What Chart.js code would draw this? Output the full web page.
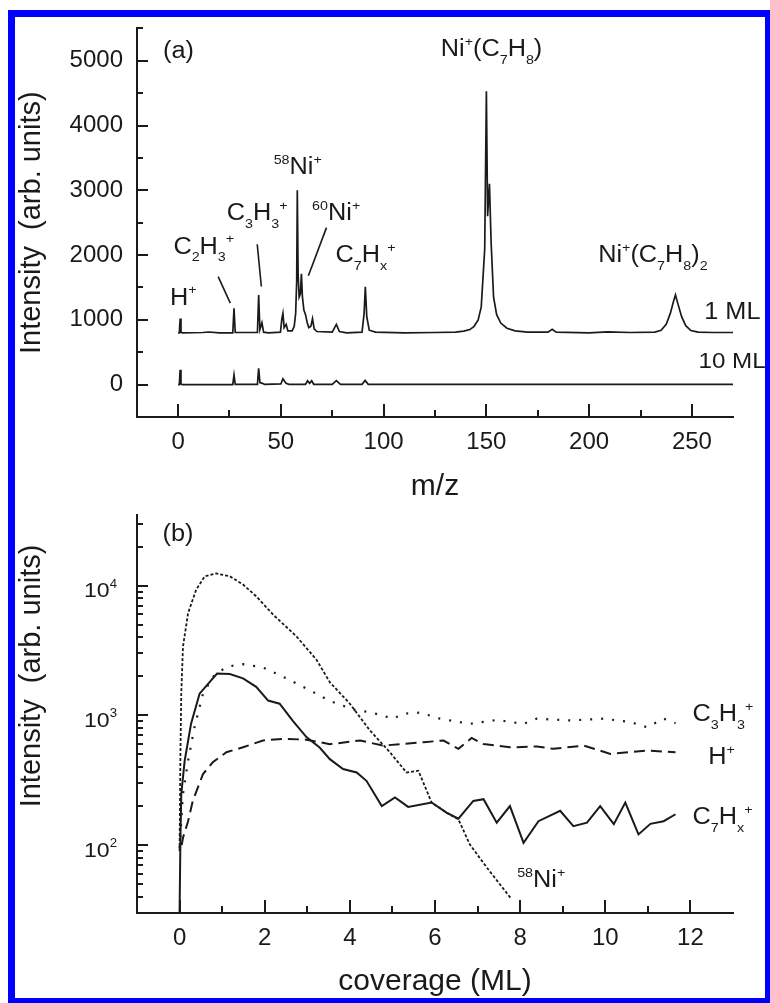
<!DOCTYPE html>
<html lang="en">
<head>
<meta charset="UTF-8" />
<title>Ni+ / toluene: mass spectra and coverage dependence</title>
<script src="https://cdn.jsdelivr.net/npm/chart.js"></script>
<style>
    html, body { margin: 0; padding: 0; background: #fff; overflow: hidden; }
    body { width: 770px; height: 1003px; position: relative; }
    canvas { position: absolute; left: 0; }
    #specChart { top: 0; }
    #covChart { top: 500px; }
    .frame {
        position: absolute; left: 8px; top: 10px;
        width: 750px; height: 981px;
        border: 7px solid #0000ff;
        pointer-events: none;
    }
</style>
</head>
<body>

<canvas id="specChart" width="770" height="507"></canvas>
<canvas id="covChart" width="770" height="503"></canvas>
<div class="frame"></div>

<script>
// ---------- panel (a): mass spectra, [m/z, intensity] ----------
const spec1ML = [
    [0, 800], [0.6, 800], [1, 1020], [1.4, 810], [2, 800], [12, 805], [15, 812], [20, 800],
    [26.6, 800], [27.2, 1180], [27.8, 805], [38.6, 805], [39.2, 1385], [39.8, 850],
    [40.8, 955], [41.6, 810], [44, 800], [49.8, 810], [50.5, 1020], [51, 1100], [51.6, 880],
    [52.6, 930], [53.4, 830], [55.5, 830], [56.5, 900], [57.2, 1100], [57.7, 1600],
    [58.0, 3000], [58.4, 1700], [58.9, 1350], [59.5, 1400], [60.0, 1710], [60.5, 1350],
    [61.2, 1150], [62, 1080], [62.8, 960], [63.6, 880], [64.6, 900], [65.4, 1020],
    [66.2, 860], [67.5, 820], [75, 810], [77, 930], [78.5, 820], [82, 800], [89.5, 810],
    [90.5, 1100], [91.1, 1510], [91.8, 1050], [93, 840], [96, 810], [110, 800], [125, 805],
    [135, 810], [139, 825], [142, 850], [144, 900], [146, 1000], [147.5, 1200], [149.2, 2100],
    [150, 4530], [150.6, 2600], [151.5, 3100], [152.3, 2200], [153.5, 1350], [155, 1080],
    [157, 950], [160, 870], [164, 830], [170, 810], [180, 810], [182, 853], [184, 810],
    [200, 800], [209, 815], [220, 805], [232, 810], [235, 840], [237.5, 930], [239.5, 1100],
    [241, 1280], [242, 1385], [243, 1270], [245, 1050], [247, 910], [249.5, 835], [253, 810],
    [260, 805], [270, 805]
];
const spec10ML = [
    [0, 0], [0.6, 0], [1, 230], [1.4, 10], [2, 0], [26.6, 0], [27.2, 150], [27.8, 5],
    [38.6, 5], [39.2, 250], [39.8, 30], [41, 20], [42, 5], [50, 10], [51, 90], [52.5, 20],
    [54, 5], [62, 5], [63, 60], [64, 20], [65, 60], [66, 5], [75, 5], [77, 60], [79, 5],
    [89.5, 5], [91, 65], [92.5, 5], [100, 3], [150, 5], [200, 3], [270, 3]
];
const specXTicks = [0, 25, 50, 75, 100, 125, 150, 175, 200, 225, 250];
const specYTicks = [0, 500, 1000, 1500, 2000, 2500, 3000, 3500, 4000, 4500, 5000, 5500];

// ---------- panel (b): intensity vs coverage, [ML, intensity] ----------
const covC7Hx = [
    [0, 30], [0.02, 110], [0.04, 247], [0.12, 447], [0.27, 863], [0.47, 1470], [0.67, 1750],
    [0.88, 2100], [1.18, 2080], [1.49, 1930], [1.8, 1660], [2.08, 1300], [2.35, 1230],
    [2.67, 900], [2.98, 680], [3.29, 565], [3.53, 460], [3.84, 386], [4.16, 363], [4.39, 313],
    [4.75, 200], [5.06, 233], [5.37, 197], [5.92, 213], [6.27, 178], [6.55, 160], [6.9, 219],
    [7.14, 226], [7.45, 149], [7.76, 200], [8.08, 104], [8.43, 153], [8.94, 184], [9.25, 140],
    [9.57, 149], [9.88, 200], [10.2, 145], [10.47, 213], [10.78, 121], [11.06, 146],
    [11.37, 153], [11.65, 173]
];
const covNi58 = [
    [0, 90], [0.02, 500], [0.04, 1480], [0.08, 3380], [0.2, 6150], [0.39, 9300], [0.59, 11800],
    [0.86, 12400], [1.18, 11800], [1.49, 10200], [1.8, 8270], [2.2, 5960], [2.75, 4050],
    [3.22, 2670], [3.53, 1800], [4.0, 1230], [4.47, 766], [4.94, 520], [5.33, 363],
    [5.61, 375], [5.92, 213], [6.27, 178], [6.55, 158], [6.82, 101], [7.22, 67], [7.78, 39]
];
const covC3H3 = [
    [0, 95], [0.08, 247], [0.2, 447], [0.35, 810], [0.55, 1470], [0.78, 1980], [1.1, 2370],
    [1.49, 2480], [1.96, 2340], [2.51, 1930], [3.06, 1560], [3.53, 1290], [4.16, 1090],
    [4.47, 1060], [5.02, 943], [5.25, 1030], [5.65, 1050], [6.12, 943], [6.82, 860],
    [7.45, 922], [8.08, 860], [8.39, 943], [9.18, 914], [9.96, 943], [10.59, 887],
    [10.98, 811], [11.37, 943], [11.65, 870]
];
const covH = [
    [0.05, 100], [0.08, 114], [0.2, 153], [0.31, 219], [0.55, 353], [0.78, 435], [1.1, 520],
    [1.49, 568], [1.96, 640], [2.43, 660], [2.98, 650], [3.53, 600], [4.24, 640], [4.78, 585],
    [5.73, 621], [6.2, 640], [6.55, 552], [6.86, 670], [7.14, 601], [7.76, 567], [8.39, 576],
    [8.78, 552], [9.49, 585], [10.12, 505], [10.98, 535], [11.65, 520]
];
const covXTicks = [0, 1, 2, 3, 4, 5, 6, 7, 8, 9, 10, 11, 12];
const covYTicks = [30, 40, 50, 60, 70, 80, 90, 100, 200, 300, 400, 500, 600, 700, 800, 900,
    1000, 2000, 3000, 4000, 5000, 6000, 7000, 8000, 9000, 10000, 20000, 30000];

// ---------- helpers ----------
const FONT = '"Liberation Sans", Arial, sans-serif';
const INK = '#1a1a1a';
const STRETCH = 1.1;   // the original lettering is a bit wide
Chart.defaults.font.family = FONT;
Chart.defaults.color = INK;

const toXY = arr => arr.map(p => ({ x: p[0], y: p[1] }));

// text with sub/superscripts; parts = [[text, ''|'sup'|'sub'], ...]
function richText(ctx, parts, x, yMid, size) {
    const base = yMid + size * 0.36;
    let cx = 0;
    ctx.save();
    ctx.translate(x, 0);
    ctx.scale(STRETCH, 1);
    ctx.textBaseline = 'alphabetic';
    ctx.textAlign = 'left';
    for (const [t, k] of parts) {
        const fs = k ? Math.round(size * 0.58) : size;
        ctx.font = fs + 'px ' + FONT;
        const dy = k === 'sup' ? -size * 0.45 : k === 'sub' ? size * 0.33 : 0;
        ctx.fillText(t, cx, base + dy);
        cx += ctx.measureText(t).width;
    }
    ctx.restore();
}

// tick marks pointing into the plot, longer on the labelled values
function innerTicks(xMajor, yMajor) {
    return {
        id: 'innerTicks',
        afterDraw(chart) {
            const { ctx } = chart;
            const xs = chart.scales.x, ys = chart.scales.y;
            const area = chart.chartArea;
            ctx.save();
            ctx.setLineDash([]);
            ctx.strokeStyle = INK;
            ctx.lineWidth = 2;
            ctx.lineCap = 'butt';
            xs.ticks.forEach(t => {
                const px = Math.round(xs.getPixelForValue(t.value));
                const len = xMajor(t.value) ? 13 : 7;
                ctx.beginPath();
                ctx.moveTo(px, area.bottom);
                ctx.lineTo(px, area.bottom - len);
                ctx.stroke();
            });
            ys.ticks.forEach(t => {
                const py = Math.round(ys.getPixelForValue(t.value));
                const len = yMajor(t.value) ? 11 : 6;
                ctx.beginPath();
                ctx.moveTo(area.left, py);
                ctx.lineTo(area.left + len, py);
                ctx.stroke();
            });
            ctx.restore();
        }
    };
}

function annotations(labels, leaders) {
    return {
        id: 'annotations',
        afterDraw(chart) {
            const { ctx } = chart;
            const xs = chart.scales.x, ys = chart.scales.y;
            ctx.save();
            ctx.fillStyle = INK;
            ctx.strokeStyle = INK;
            ctx.lineWidth = 1.6;
            leaders.forEach(l => {
                ctx.beginPath();
                ctx.moveTo(xs.getPixelForValue(l[0]), ys.getPixelForValue(l[1]));
                ctx.lineTo(xs.getPixelForValue(l[2]), ys.getPixelForValue(l[3]));
                ctx.stroke();
            });
            labels.forEach(a => {
                richText(ctx, a.parts, xs.getPixelForValue(a.x), ys.getPixelForValue(a.y), a.size || 23);
            });
            ctx.restore();
        }
    };
}

// ---------- chart (a) ----------
new Chart(document.getElementById('specChart'), {
    type: 'line',
    data: {
        datasets: [
            { label: '1 ML', data: toXY(spec1ML), borderColor: INK, borderWidth: 1.7, pointRadius: 0, tension: 0 },
            { label: '10 ML', data: toXY(spec10ML), borderColor: INK, borderWidth: 1.7, pointRadius: 0, tension: 0 }
        ]
    },
    options: {
        responsive: false,
        animation: false,
        layout: { padding: { left: 0, right: 37, top: 22, bottom: 0 } },
        plugins: { legend: { display: false }, tooltip: { enabled: false } },
        scales: {
            x: {
                type: 'linear', min: -20, max: 270,
                afterBuildTicks: s => { s.ticks = specXTicks.map(v => ({ value: v })); },
                afterFit: s => { s.height = 90; },
                grid: { display: false, drawTicks: false },
                border: { display: true, color: INK, width: 2 },
                ticks: { autoSkip: false, maxRotation: 0, padding: 11, font: { size: 24 },
                         callback: v => (v % 50 === 0 ? String(v) : '') },
                title: { display: true, text: 'm/z', font: { size: 30 }, padding: { top: 0, bottom: 2 } }
            },
            y: {
                type: 'linear', min: -500, max: 5500,
                afterBuildTicks: s => { s.ticks = specYTicks.map(v => ({ value: v })); },
                afterFit: s => { s.width = 137; },
                grid: { display: false, drawTicks: false },
                border: { display: true, color: INK, width: 2 },
                ticks: { autoSkip: false, padding: 14, font: { size: 24 },
                         callback: v => (v % 1000 === 0 ? String(v) : '') },
                title: { display: true, text: 'Intensity  (arb. units)', font: { size: 29 }, padding: { top: 15, bottom: 0 } }
            }
        }
    },
    plugins: [
        innerTicks(v => v % 50 === 0, v => v % 1000 === 0),
        annotations([
            { x: -7.3, y: 5170, parts: [['(a)', '']] },
            { x: -3.9, y: 1360, parts: [['H', ''], ['+', 'sup']] },
            { x: -2.3, y: 2150, parts: [['C', ''], ['2', 'sub'], ['H', ''], ['3', 'sub'], ['+', 'sup']] },
            { x: 23.7, y: 2670, parts: [['C', ''], ['3', 'sub'], ['H', ''], ['3', 'sub'], ['+', 'sup']] },
            { x: 46.5, y: 3380, parts: [['58', 'sup'], ['Ni', ''], ['+', 'sup']] },
            { x: 65.2, y: 2670, parts: [['60', 'sup'], ['Ni', ''], ['+', 'sup']] },
            { x: 76.6, y: 2020, parts: [['C', ''], ['7', 'sub'], ['H', ''], ['x', 'sub'], ['+', 'sup']] },
            { x: 127.8, y: 5200, parts: [['Ni', ''], ['+', 'sup'], ['(C', ''], ['7', 'sub'], ['H', ''], ['8', 'sub'], [')', '']] },
            { x: 204.4, y: 2020, parts: [['Ni', ''], ['+', 'sup'], ['(C', ''], ['7', 'sub'], ['H', ''], ['8', 'sub'], [')', ''], ['2', 'sub']] },
            { x: 256, y: 1140, parts: [['1 ML', '']] },
            { x: 253.2, y: 380, parts: [['10 ML', '']], size: 22 }
        ], [
            [19.5, 1667, 25.4, 1258],
            [38.5, 2167, 40.5, 1515],
            [72.2, 2424, 63.4, 1682]
        ])
    ]
});

// ---------- chart (b) ----------
const covLabelsPlugin = {
    id: 'covLabels',
    afterDraw(chart) {
        const { ctx } = chart;
        const ys = chart.scales.y;
        ctx.save();
        ctx.fillStyle = INK;
        // power-of-ten tick labels
        ys.ticks.forEach(t => {
            const e = Math.log10(t.value);
            if (Math.abs(e - Math.round(e)) > 1e-9) return;
            const py = ys.getPixelForValue(t.value);
            ctx.font = '21px ' + FONT;
            const w10 = ctx.measureText('10').width;
            ctx.font = '12px ' + FONT;
            const wE = ctx.measureText(String(Math.round(e))).width;
            const x0 = ys.right - 20 - (w10 + wE) * STRETCH;
            richText(ctx, [['10', ''], [String(Math.round(e)), 'sup']], x0, py + 4, 21);
        });
        // rotated axis title (sits above the axis centre in the original)
        ctx.translate(32, 176);
        ctx.rotate(-Math.PI / 2);
        ctx.font = '29px ' + FONT;
        ctx.textAlign = 'center';
        ctx.textBaseline = 'middle';
        ctx.fillText('Intensity  (arb. units)', 0, 0);
        ctx.restore();
    }
};

new Chart(document.getElementById('covChart'), {
    type: 'line',
    data: {
        datasets: [
            { label: 'C7Hx+', data: toXY(covC7Hx), borderColor: INK, borderWidth: 2, pointRadius: 0, tension: 0 },
            { label: '58Ni+', data: toXY(covNi58), borderColor: INK, borderWidth: 1.8, borderDash: [3, 2], pointRadius: 0, tension: 0 },
            { label: 'C3H3+', data: toXY(covC3H3), borderColor: INK, borderWidth: 2.2, borderDash: [2, 9], pointRadius: 0, tension: 0 },
            { label: 'H+', data: toXY(covH), borderColor: INK, borderWidth: 2, borderDash: [11, 6], pointRadius: 0, tension: 0 }
        ]
    },
    options: {
        responsive: false,
        animation: false,
        layout: { padding: { left: 0, right: 37, top: 15, bottom: 0 } },
        plugins: { legend: { display: false }, tooltip: { enabled: false } },
        scales: {
            x: {
                type: 'linear', min: -1, max: 13,
                afterBuildTicks: s => { s.ticks = covXTicks.map(v => ({ value: v })); },
                afterFit: s => { s.height = 90; },
                grid: { display: false, drawTicks: false },
                border: { display: true, color: INK, width: 2 },
                ticks: { autoSkip: false, maxRotation: 0, padding: 11, font: { size: 24 },
                         callback: v => (v % 2 === 0 ? String(v) : '') },
                title: { display: true, text: 'coverage (ML)', font: { size: 30 }, padding: { top: 0, bottom: 3 } }
            },
            y: {
                type: 'logarithmic', min: 30, max: 35000,
                afterBuildTicks: s => { s.ticks = covYTicks.map(v => ({ value: v })); },
                afterFit: s => { s.width = 137; },
                grid: { display: false, drawTicks: false },
                border: { display: true, color: INK, width: 2 },
                ticks: { display: false, autoSkip: false }
            }
        }
    },
    plugins: [
        innerTicks(v => v % 2 === 0, v => Math.abs(Math.log10(v) - Math.round(Math.log10(v))) < 1e-9),
        covLabelsPlugin,
        annotations([
            { x: -0.4, y: 25700, parts: [['(b)', '']] },
            { x: 12.05, y: 1040, parts: [['C', ''], ['3', 'sub'], ['H', ''], ['3', 'sub'], ['+', 'sup']] },
            { x: 12.42, y: 490, parts: [['H', ''], ['+', 'sup']] },
            { x: 12.05, y: 168, parts: [['C', ''], ['7', 'sub'], ['H', ''], ['x', 'sub'], ['+', 'sup']] },
            { x: 7.93, y: 55, parts: [['58', 'sup'], ['Ni', ''], ['+', 'sup']] }
        ], [])
    ]
});
</script>
</body>
</html>
